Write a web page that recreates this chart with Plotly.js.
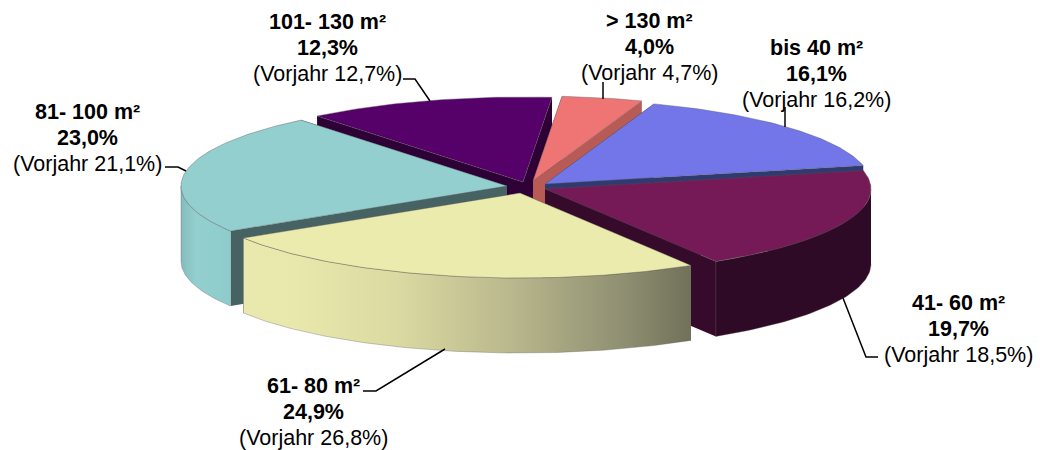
<!DOCTYPE html>
<html><head><meta charset="utf-8">
<script src="https://cdn.plot.ly/plotly-3.0.1.min.js"></script>
<style>html,body{margin:0;padding:0;background:#fff}</style></head>
<body><div id="chart" style="width:1040px;height:450px"></div>
<script>
// ---- data ----
const categories = ['bis 40 m²','41- 60 m²','61- 80 m²','81- 100 m²','101- 130 m²','> 130 m²'];
const shares     = [16.1,19.7,24.9,23.0,12.3,4.0];
const shareText  = ['16,1%','19,7%','24,9%','23,0%','12,3%','4,0%'];
const prevText   = ['16,2%','18,5%','26,8%','21,1%','12,7%','4,7%'];

// ---- styling / layout ----
const topColor  = ['#7276e8','#751a56','#ecebae','#93cfcf','#560069','#ef7575'];
const cutColor  = ['#2f3a70','#360a2b','#8a8a66','#466262','#2d0036','#b85a55'];
const wallScale = [
  [[0,'#2f3a70'],[1,'#2f3a70']],
  [[0,'#2f0a26'],[1,'#2f0a26']],
  [[0,'#e9e9ad'],[0.12,'#e8e8ac'],[0.35,'#dad9a1'],[0.6,'#b9b78c'],[0.85,'#8f8f72'],[1,'#71715a']],
  [[0,'#84bcbc'],[0.3,'#93cfcf'],[1,'#8ecccc']],
  [[0,'#2d0036'],[1,'#2d0036']],
  [[0,'#b85a55'],[1,'#b85a55']]
];
const apexX = [545,545,520,507,523,533];
const apexY = [184,189,193,186,182,181];
const rx = 326, ry = 85, depth = 75, startAngle = 70.5;
const paintOrder = [4,5,0,1,3,2];
const labelX = [816,958,313,87,327,649];
const labelY = [48,303,386,112,22,21];
const labelPitch = 26;
const leaders = [
  [[785,785],[107,127]],
  [[843,866,878],[298,357,357]],
  [[363,376,445],[391,391,349]],
  [[165,178,186],[167,167,171]],
  [[403,415,430],[79,79,101]],
  [[603,603],[82,99]]
];

// ---- geometry derived from the shares ----
const total = shares.reduce((a,b)=>a+b,0);
const angles = []; let running = startAngle;
shares.forEach(v=>{const next = running - v/total*360; angles.push([running,next]); running = next;});
const rad = d=>d*Math.PI/180;
const px = (i,a)=>apexX[i]+rx*Math.cos(rad(a));
const py = (i,a)=>apexY[i]-ry*Math.sin(rad(a));
function arc(i,a,b){const n=Math.max(2,Math.ceil(Math.abs(a-b)));const xs=[],ys=[];
  for(let k=0;k<=n;k++){const t=a+(b-a)*k/n;xs.push(px(i,t));ys.push(py(i,t));}return [xs,ys];}
const traces=[];
function poly(name,xs,ys,extra){traces.push(Object.assign({type:'scatter',mode:'lines',name,x:xs,y:ys,fill:'toself',hoverinfo:'skip',line:{width:0,color:'rgba(0,0,0,0)'}},extra));}

paintOrder.forEach(i=>{
  const [a,b]=angles[i], c=categories[i], col=cutColor[i];
  [a,b].forEach(e=>{
    const x=[apexX[i],px(i,e),px(i,e),apexX[i],apexX[i]], y=[apexY[i],py(i,e),py(i,e)+depth,apexY[i]+depth,apexY[i]];
    poly(c+' Schnitt',x,y,{fillcolor:col});
  });
  const lo=Math.max(b,-180), hi=Math.min(a,0);
  if(hi>lo){
    const [ax,ay]=arc(i,hi,lo);
    const xs=ax.concat(ax.slice().reverse()), ys=ay.concat(ay.slice().reverse().map(v=>v+depth));
    poly(c+' Wand',xs,ys,{fillgradient:{type:'horizontal',colorscale:wallScale[i]},line:{width:0.6,color:'rgba(90,90,90,0.55)'}});
  }
  const [tx,ty]=arc(i,a,b);
  poly(c,[apexX[i]].concat(tx,[apexX[i]]),[apexY[i]].concat(ty,[apexY[i]]),{fillcolor:topColor[i],line:{width:0.7,color:'rgba(90,90,90,0.6)'}});
});
leaders.forEach((l,i)=>traces.push({type:'scatter',mode:'lines',name:categories[i]+' Linie',x:l[0],y:l[1],hoverinfo:'skip',line:{color:'#000',width:1.5}}));

const annotations=[];
categories.forEach((c,i)=>{
  ['<b>'+c+'</b>','<b>'+shareText[i]+'</b>','(Vorjahr '+prevText[i]+')'].forEach((t,k)=>annotations.push({
    x:labelX[i],y:labelY[i]+k*labelPitch,xref:'x',yref:'y',xanchor:'center',yanchor:'middle',showarrow:false,align:'center',
    text:t,font:{family:'"Liberation Sans",Arial,sans-serif',size:21.5,color:'#000'}
  }));
});

Plotly.newPlot('chart',traces,{
  width:1040,height:450,margin:{l:0,r:0,t:0,b:0},showlegend:false,
  paper_bgcolor:'#fff',plot_bgcolor:'#fff',
  xaxis:{range:[0,1040],visible:false,fixedrange:true},
  yaxis:{range:[450,0],visible:false,fixedrange:true},
  annotations
},{displayModeBar:false,staticPlot:true});
</script></body></html>
